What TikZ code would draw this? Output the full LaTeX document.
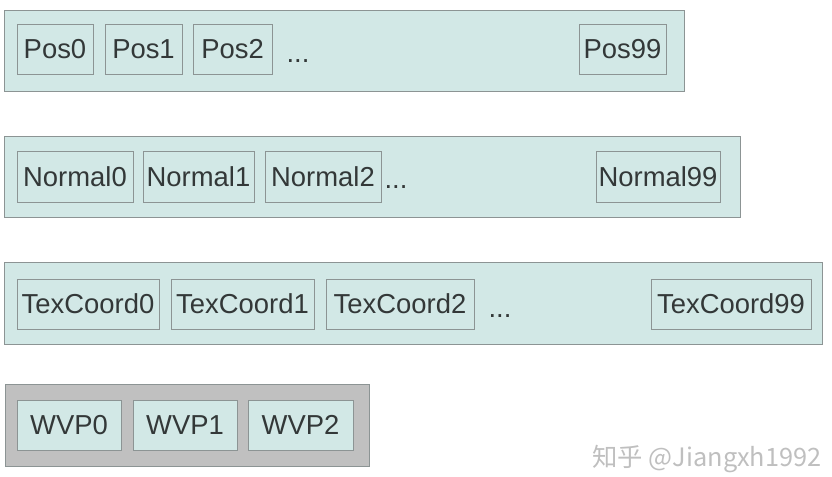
\documentclass[tikz,border=0pt]{standalone}
\usepackage{fontspec}
\setmainfont{Liberation Sans}
\newfontfamily\cjk{Noto Sans CJK SC}
\usepackage{xcolor}
\definecolor{slotfill}{HTML}{D2E8E6}
\definecolor{slotline}{HTML}{8C9494}
\definecolor{bankgray}{HTML}{C0C0C0}
\definecolor{slottext}{HTML}{333838}

\begin{document}
\begin{tikzpicture}[x=0.025cm,y=-0.025cm,
  bank/.style={rectangle,draw=slotline,fill=slotfill,line width=0.6pt,inner sep=0pt,minimum height=2.025cm},
  cell/.style={rectangle,draw=slotline,fill=slotfill,line width=0.6pt,inner sep=0pt,minimum height=1.25cm,
    text=slottext,font=\fontsize{19.5}{21}\selectfont},
  more/.style={anchor=base,text=slottext,font=\fontsize{19.5}{21}\selectfont}]
\useasboundingbox (0,0) rectangle (832,476);
%\draw[help lines] (0,0) grid (832,476);
\path (344.5,50.5) node(posbank) [bank,minimum width=16.975cm] {}
(372.5,176.5) node(nrmbank) [bank,minimum width=18.375cm] {}
(413.5,303) node(texbank) [bank,minimum width=20.425cm,minimum height=2.05cm] {}
(187,425) node(wvpbank) [bank,fill=bankgray,minimum width=9.1cm,minimum height=2.05cm] {};
\path (55,49.5) node(pos0) [cell,minimum width=1.9cm] {Pos0}
(143.5,49.5) node(pos1) [cell,minimum width=1.925cm] {Pos1}
(232.5,49.5) node(pos2) [cell,minimum width=1.975cm] {Pos2}
(298,62) node(posdots) [more] {...}
(622.5,49.5) node(pos99) [cell,minimum width=2.175cm] {Pos99};
\path (75,176.5) node(nrm0) [cell,minimum width=2.9cm,minimum height=1.275cm] {Normal0}
(198.5,176.5) node(nrm1) [cell,minimum width=2.775cm,minimum height=1.275cm] {Normal1}
(323,176.5) node(nrm2) [cell,minimum width=2.9cm,minimum height=1.275cm] {Normal2}
(396,188) node(nrmdots) [more] {...}
(658,176.5) node(nrm99) [cell,minimum width=3.1cm,minimum height=1.275cm] {Normal99};
\path (88,304) node(tex0) [cell,minimum width=3.55cm] {TexCoord0}
(242.5,304) node(tex1) [cell,minimum width=3.575cm] {TexCoord1}
(400,304) node(tex2) [cell,minimum width=3.7cm] {TexCoord2}
(500,317) node(texdots) [more] {...}
(731,304) node(tex99) [cell,minimum width=4cm] {TexCoord99};
\path (69,425) node(wvp0) [cell,minimum width=2.6cm] {WVP0}
(185,425) node(wvp1) [cell,minimum width=2.6cm] {WVP1}
(300.5,425) node(wvp2) [cell,minimum width=2.625cm] {WVP2};
\path (707,466) node(mark) [anchor=base,text=black!25,font=\cjk\fontsize{18}{20}\selectfont] {知乎 @Jiangxh1992};
\end{tikzpicture}
\end{document}
